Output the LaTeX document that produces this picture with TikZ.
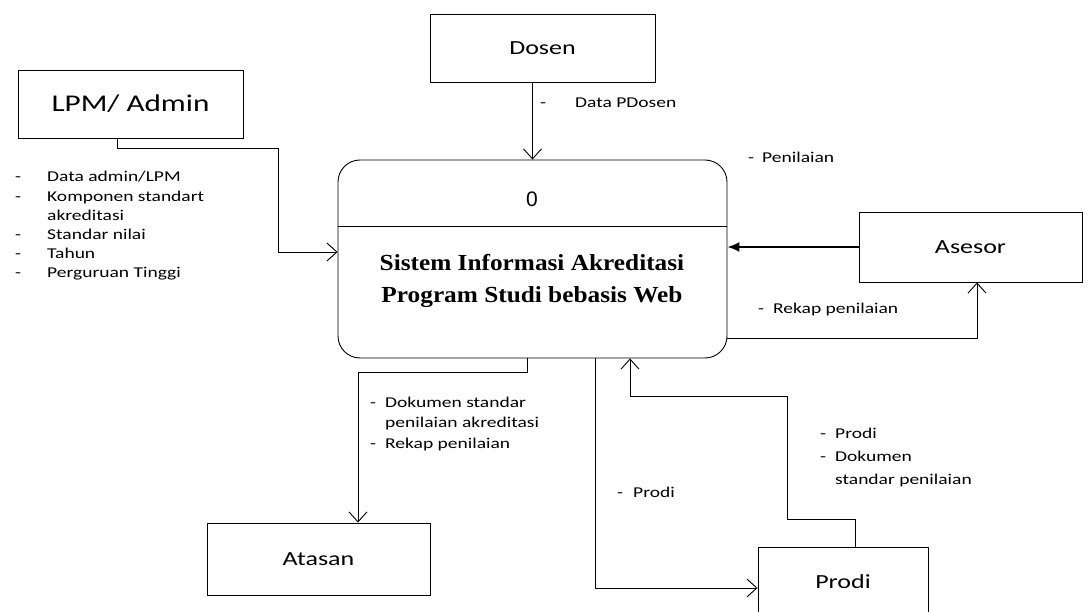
\documentclass[tikz,border=0pt]{standalone}
\usepackage{fontspec}
\setmainfont{Carlito}[FakeStretch=1.3]
\newfontfamily\procfont{Liberation Serif}[FakeStretch=1.1]
\newfontfamily\numfont{Liberation Sans}
\usepackage{tikz}
\usetikzlibrary{calc, arrows, arrows.meta}
\tikzset{>=latex}
\tikzset{
  entity/.style={draw, line width=0.9pt, minimum width=225pt, minimum height=68pt,
    inner sep=0pt, font=\fontsize{20}{24}\selectfont},
  flow/.style={line width=0.9pt, -{Straight Barb[length=10pt,width=18pt,line width=0.9pt]}},
  lbl/.style={anchor=base west, inner sep=0pt, font=\fontsize{15}{19.2}\selectfont},
}

\begin{document}
\begin{tikzpicture}[x=1pt, y=-1pt]
\useasboundingbox (0,0) rectangle (1090,612);

% external entities
\node[entity, font=\fontsize{24}{28}\selectfont] (lpm) at (130.5,104) {LPM/ Admin};
\node[entity] (dosen) at (542.5,48) {Dosen};
\node[entity, minimum width=223pt, minimum height=70pt] (asesor) at (970.5,247) {Asesor};
\node[entity, minimum width=223pt, minimum height=72pt] (atasan) at (318.5,559) {Atasan};
\node[entity, minimum width=170pt, minimum height=70pt] (prodi) at (843,582) {Prodi};

% process
\node[draw, line width=0.9pt, rounded corners=22pt, minimum width=389pt, minimum height=198pt] (proc) at (532.5,259) {};
\coordinate (div) at (0,226);
\draw[line width=0.9pt] (proc.west |- div) -- (proc.east |- div);
\node[font=\numfont\fontsize{21}{24}\selectfont] (procnum) at (532,199) {0};
\node[align=center, font=\procfont\bfseries\fontsize{23}{32}\selectfont] (procname) at (532,281)
  {Sistem Informasi Akreditasi\\Program Studi bebasis Web};

% bends
\coordinate (l1) at (117,148);
\coordinate (l2) at (278,252);
\coordinate (r1) at (977,338);
\coordinate (a1) at (527,372);
\coordinate (a2) at (358,372);
\coordinate (p1) at (595,588);
\coordinate (q1) at (855,519);
\coordinate (q2) at (787,519);
\coordinate (q3) at (787,396);
\coordinate (q4) at (630,396);

% flows
\draw[flow] (proc.north |- dosen.south) -- (proc.north);
\draw[flow] (lpm.south -| l1) -- (l1) -| (l2) -- (proc.west |- l2);
\draw[line width=1.6pt, -{Latex[length=12pt,width=10pt]}] (asesor.west) -- (proc.east |- asesor.west);
\draw[flow] (proc.east |- r1) -- (r1) -- (asesor.south -| r1);
\draw[flow] (proc.south -| a1) -- (a1) -- (a2) -- (atasan.north -| a2);
\draw[flow] (proc.south -| p1) -- (p1) -- (prodi.west |- p1);
\draw[flow] (prodi.north -| q1) -- (q1) -- (q2) -- (q3) -- (q4) -- (proc.south -| q4);

% labels
\node[lbl] (lbllpm) at (15,182) {\begin{tabular}[t]{@{}p{32pt}@{}l@{}}
  -&Data admin/LPM\\ -&Komponen standart\\ &akreditasi\\ -&Standar nilai\\ -&Tahun\\ -&Perguruan Tinggi\end{tabular}};
\node[lbl] (lbldosen) at (540,108) {\begin{tabular}[t]{@{}p{35pt}@{}l@{}}-&Data PDosen\end{tabular}};
\node[lbl] (lblnilai) at (748,163) {\begin{tabular}[t]{@{}p{14pt}@{}l@{}}-&Penilaian\end{tabular}};
\node[lbl] (lblrekap) at (758,314) {\begin{tabular}[t]{@{}p{15pt}@{}l@{}}-&Rekap penilaian\end{tabular}};
\node[lbl, font=\fontsize{15}{20.5}\selectfont] (lblatasan) at (370,407) {\begin{tabular}[t]{@{}p{15pt}@{}l@{}}
  -&Dokumen standar\\ &penilaian akreditasi\\ -&Rekap penilaian\end{tabular}};
\node[lbl] (lblprodi) at (617,497) {\begin{tabular}[t]{@{}p{16pt}@{}l@{}}-&Prodi\end{tabular}};
\node[lbl, font=\fontsize{15}{23.5}\selectfont] (lblprodidok) at (820,438) {\begin{tabular}[t]{@{}p{15pt}@{}l@{}}
  -&Prodi\\ -&Dokumen\\ &standar penilaian\end{tabular}};

\end{tikzpicture}
\end{document}
